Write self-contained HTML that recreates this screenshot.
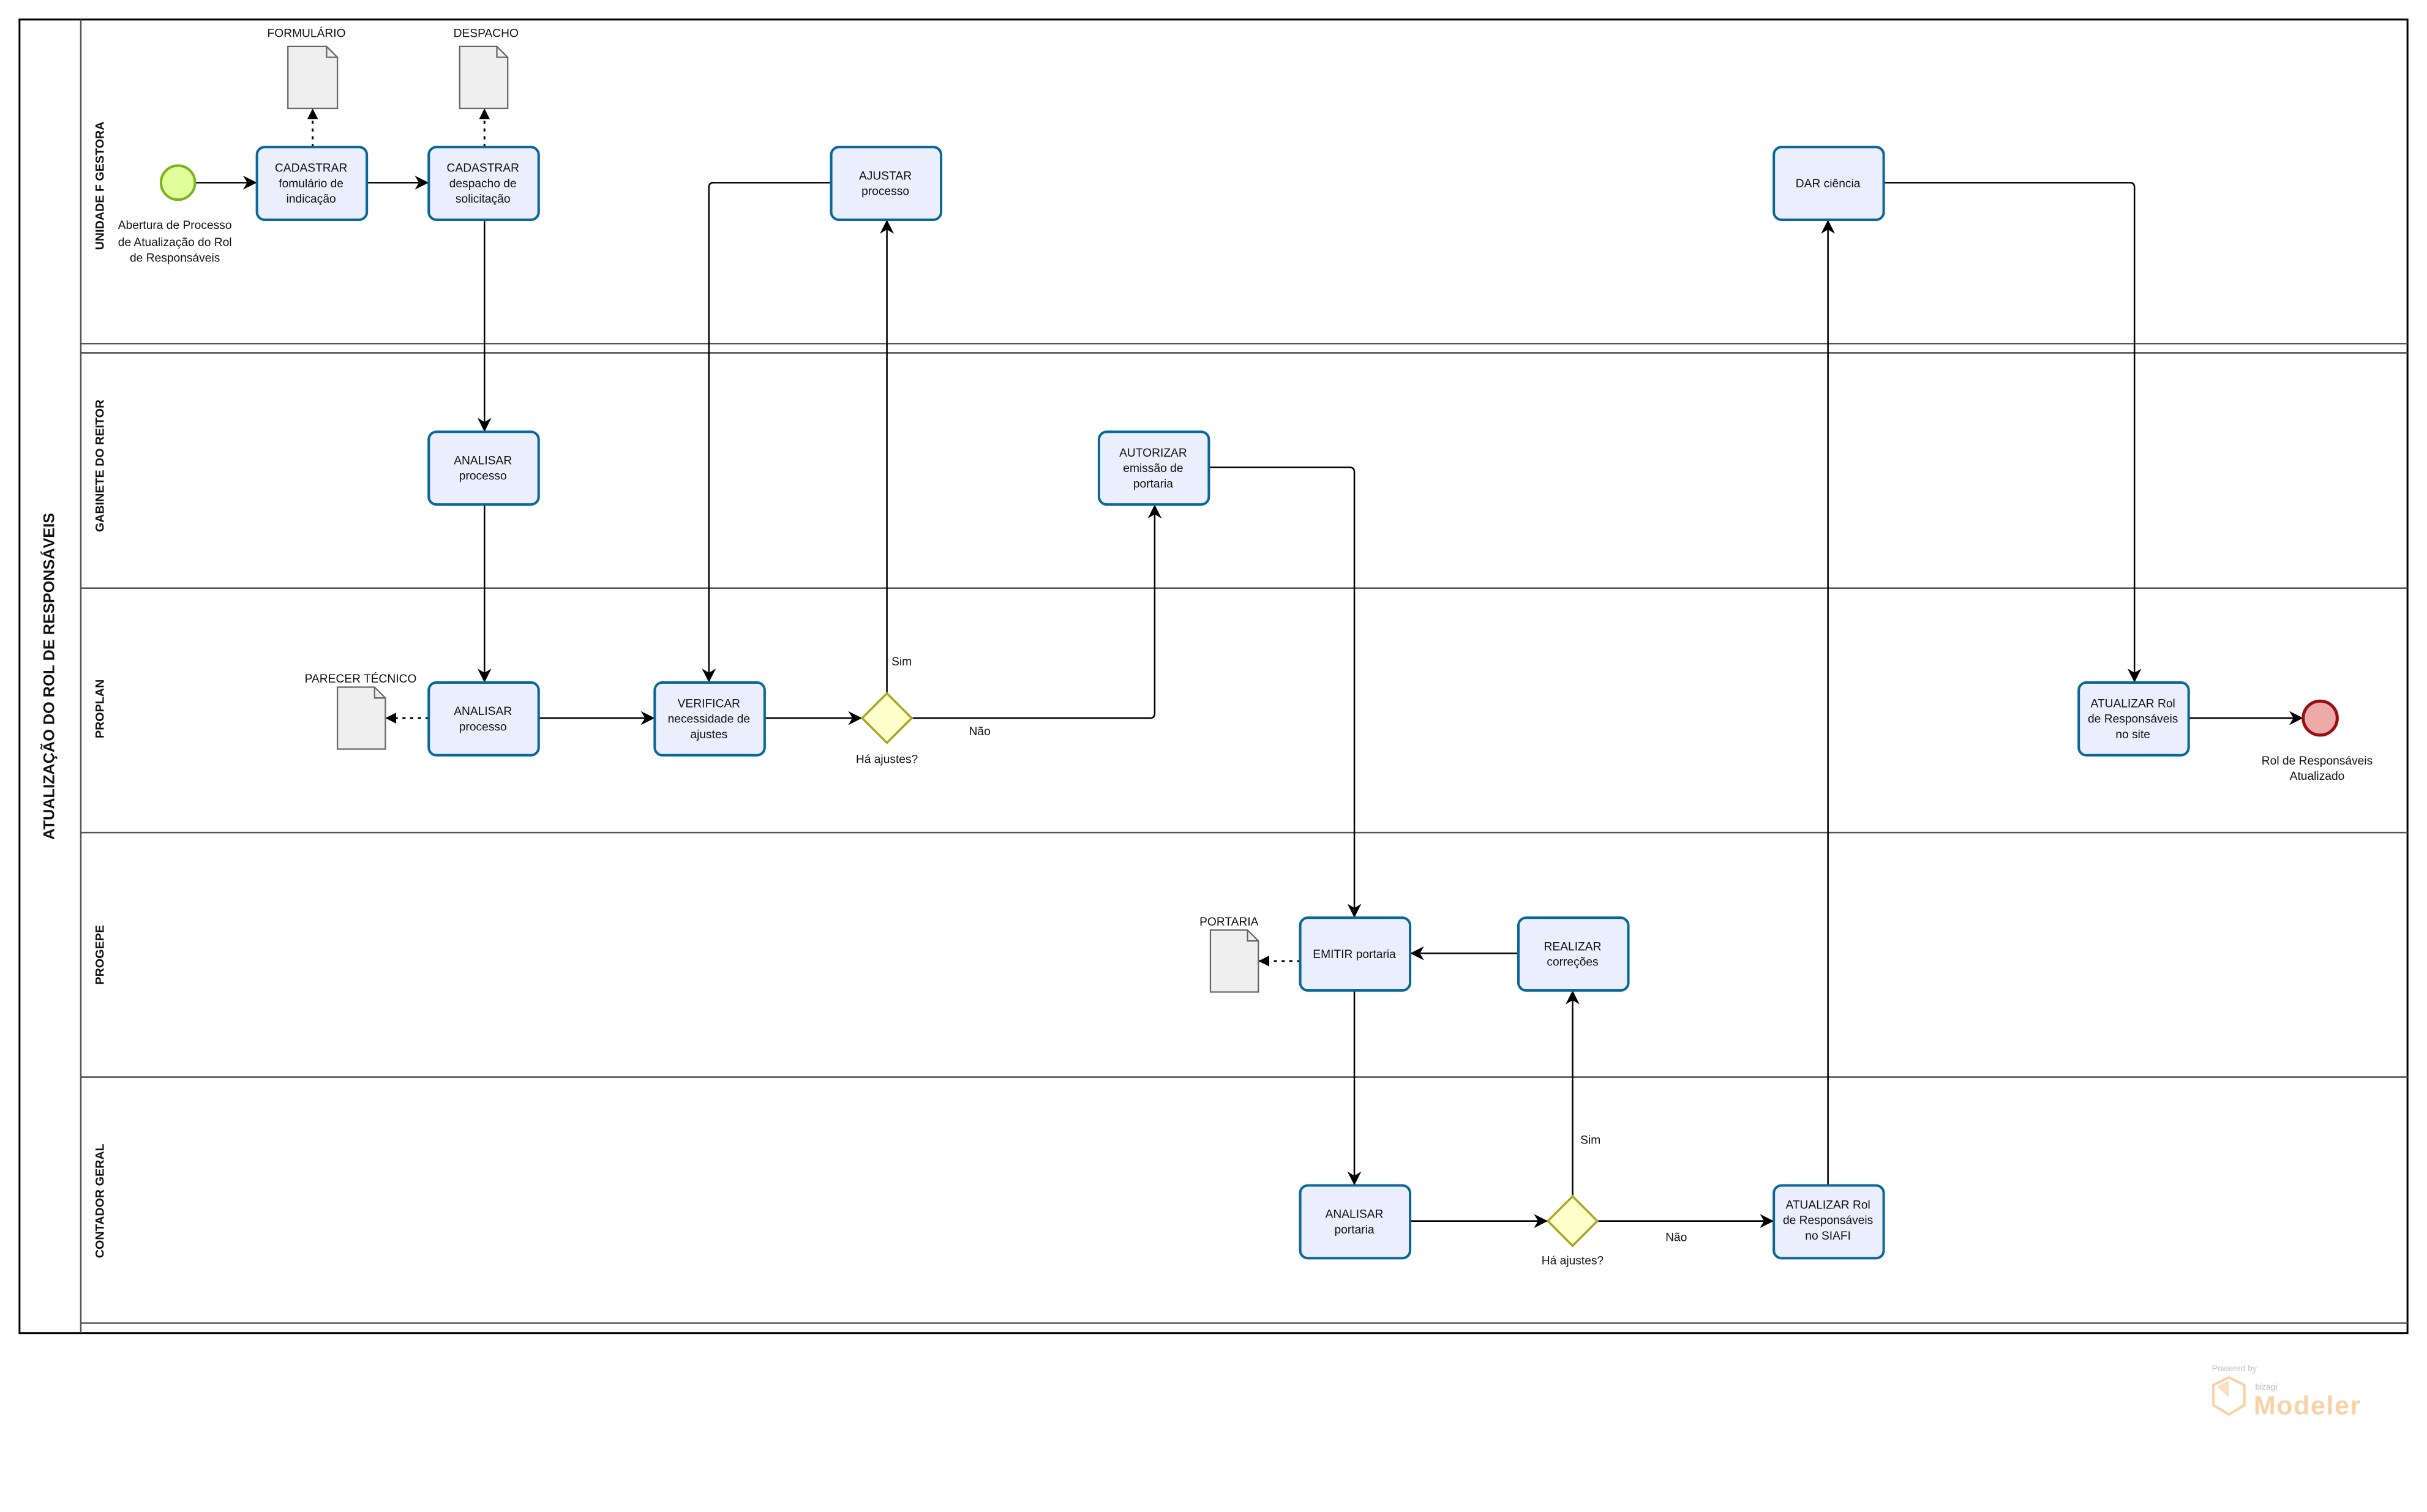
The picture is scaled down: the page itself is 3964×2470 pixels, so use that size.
<!DOCTYPE html>
<html><head><meta charset="utf-8"><style>
html,body{margin:0;padding:0;background:#fff;}
svg{display:block;}
text{font-family:"Liberation Sans",sans-serif;fill:#111;}
</style></head><body>
<svg width="3964" height="2470" viewBox="0 0 1568 977" xmlns="http://www.w3.org/2000/svg">
<defs>
<marker id="a" viewBox="0 0 10 10" refX="10" refY="5" markerWidth="9" markerHeight="9" markerUnits="userSpaceOnUse" orient="auto"><path d="M0,0 L10,5 L0,10 L3,5 z" fill="#000"/></marker>
<marker id="b" viewBox="0 0 10 10" refX="10" refY="5" markerWidth="7" markerHeight="7" markerUnits="userSpaceOnUse" orient="auto"><path d="M0,0 L10,5 L0,10 z" fill="#000"/></marker>
</defs>
<rect width="1568" height="977" fill="#fff"/>
<rect x="12.6" y="12.6" width="1542.8" height="848.8" fill="none" stroke="#000" stroke-width="1.2"/>
<line x1="52.2" y1="12.6" x2="52.2" y2="861.4" stroke="#555" stroke-width="1"/>
<g stroke="#555" stroke-width="1">
<line x1="52.2" y1="222" x2="1555.4" y2="222"/>
<line x1="52.2" y1="228" x2="1555.4" y2="228"/>
<line x1="52.2" y1="380" x2="1555.4" y2="380"/>
<line x1="52.2" y1="538" x2="1555.4" y2="538"/>
<line x1="52.2" y1="696" x2="1555.4" y2="696"/>
<line x1="52.2" y1="855" x2="1555.4" y2="855"/>
</g>
<text transform="translate(35,437) rotate(-90)" text-anchor="middle" font-size="10" font-weight="bold">ATUALIZAÇÃO DO ROL DE RESPONSÁVEIS</text>
<g font-size="7.8" font-weight="bold" text-anchor="middle">
<text transform="translate(67,120) rotate(-90)">UNIDADE F GESTORA</text>
<text transform="translate(67,301) rotate(-90)">GABINETE DO REITOR</text>
<text transform="translate(67,458) rotate(-90)">PROPLAN</text>
<text transform="translate(67,617) rotate(-90)">PROGEPE</text>
<text transform="translate(67,776) rotate(-90)">CONTADOR GERAL</text>
</g>

<g fill="none" stroke="#000" stroke-width="1">
<line x1="126" y1="118" x2="166" y2="118" marker-end="url(#a)"/>
<line x1="237" y1="118" x2="277" y2="118" marker-end="url(#a)"/>
<line x1="313" y1="142" x2="313" y2="279" marker-end="url(#a)"/>
<line x1="313" y1="326" x2="313" y2="441" marker-end="url(#a)"/>
<line x1="348" y1="464" x2="423" y2="464" marker-end="url(#a)"/>
<path d="M537,118 H461 Q458,118 458,121 V441" marker-end="url(#a)"/>
<line x1="494" y1="464" x2="557" y2="464" marker-end="url(#a)"/>
<line x1="573" y1="448" x2="573" y2="142" marker-end="url(#a)"/>
<path d="M589,464 H743 Q746,464 746,461 V326" marker-end="url(#a)"/>
<path d="M781,302 H872 Q875,302 875,305 V593" marker-end="url(#a)"/>
<line x1="981" y1="616" x2="911" y2="616" marker-end="url(#a)"/>
<line x1="875" y1="640" x2="875" y2="766" marker-end="url(#a)"/>
<line x1="911" y1="789" x2="1000" y2="789" marker-end="url(#a)"/>
<line x1="1016" y1="773" x2="1016" y2="640" marker-end="url(#a)"/>
<line x1="1032" y1="789" x2="1146" y2="789" marker-end="url(#a)"/>
<line x1="1181" y1="766" x2="1181" y2="142" marker-end="url(#a)"/>
<path d="M1217,118 H1376 Q1379,118 1379,121 V441" marker-end="url(#a)"/>
<line x1="1414" y1="464" x2="1488" y2="464" marker-end="url(#a)"/>
</g>
<g fill="none" stroke="#000" stroke-width="1.2" stroke-dasharray="2,3">
<line x1="202" y1="95" x2="202" y2="70" marker-end="url(#b)"/>
<line x1="313" y1="95" x2="313" y2="70" marker-end="url(#b)"/>
<line x1="277" y1="464" x2="249" y2="464" marker-end="url(#b)"/>
<line x1="840" y1="621" x2="813" y2="621" marker-end="url(#b)"/>
</g>

<circle cx="115" cy="118" r="11" fill="#e0ff99" stroke="#77b41d" stroke-width="1.6"/>
<circle cx="1499" cy="464" r="11" fill="#eea9a9" stroke="#9a0f0f" stroke-width="2"/>

<polygon points="573,448 589,464 573,480 557,464" fill="#ffffcc" stroke="#a8a825" stroke-width="1.4"/>
<polygon points="1016,773 1032,789 1016,805 1000,789" fill="#ffffcc" stroke="#a8a825" stroke-width="1.4"/>

<g fill="#ebeefd" stroke="#0a6799" stroke-width="1.6">
<rect x="166" y="95" width="71" height="47" rx="5"/>
<rect x="277" y="95" width="71" height="47" rx="5"/>
<rect x="537" y="95" width="71" height="47" rx="5"/>
<rect x="1146" y="95" width="71" height="47" rx="5"/>
<rect x="277" y="279" width="71" height="47" rx="5"/>
<rect x="710" y="279" width="71" height="47" rx="5"/>
<rect x="277" y="441" width="71" height="47" rx="5"/>
<rect x="423" y="441" width="71" height="47" rx="5"/>
<rect x="1343" y="441" width="71" height="47" rx="5"/>
<rect x="840" y="593" width="71" height="47" rx="5"/>
<rect x="981" y="593" width="71" height="47" rx="5"/>
<rect x="840" y="766" width="71" height="47" rx="5"/>
<rect x="1146" y="766" width="71" height="47" rx="5"/>
</g>

<g fill="#efefef" stroke="#666" stroke-width="0.9">
<path d="M186,30 H211 L218,37 V70 H186 Z"/>
<path d="M297,30 H321 L328,37 V70 H297 Z"/>
<path d="M218,444 H242 L249,451 V484 H218 Z"/>
<path d="M782,601 H806 L813,608 V641 H782 Z"/>
</g>
<g fill="none" stroke="#666" stroke-width="0.9">
<path d="M211,30 V37 H218"/><path d="M321,30 V37 H328"/><path d="M242,444 V451 H249"/><path d="M806,601 V608 H813"/>
</g>

<g font-size="7.6" text-anchor="middle">
<text x="198" y="24">FORMULÁRIO</text>
<text x="314" y="24">DESPACHO</text>
<text x="233" y="441">PARECER TÉCNICO</text>
<text x="794" y="598">PORTARIA</text>

<text x="201" y="111">CADASTRAR</text><text x="201" y="121">fomulário de</text><text x="201" y="131">indicação</text>
<text x="312" y="111">CADASTRAR</text><text x="312" y="121">despacho de</text><text x="312" y="131">solicitação</text>
<text x="572" y="116">AJUSTAR</text><text x="572" y="126">processo</text>
<text x="1181" y="121">DAR ciência</text>
<text x="312" y="300">ANALISAR</text><text x="312" y="310">processo</text>
<text x="745" y="295">AUTORIZAR</text><text x="745" y="305">emissão de</text><text x="745" y="315">portaria</text>
<text x="312" y="462">ANALISAR</text><text x="312" y="472">processo</text>
<text x="458" y="457">VERIFICAR</text><text x="458" y="467">necessidade de</text><text x="458" y="477">ajustes</text>
<text x="1378" y="457">ATUALIZAR Rol</text><text x="1378" y="467">de Responsáveis</text><text x="1378" y="477">no site</text>
<text x="875" y="619">EMITIR portaria</text>
<text x="1016" y="614">REALIZAR</text><text x="1016" y="624">correções</text>
<text x="875" y="787">ANALISAR</text><text x="875" y="797">portaria</text>
<text x="1181" y="781">ATUALIZAR Rol</text><text x="1181" y="791">de Responsáveis</text><text x="1181" y="801">no SIAFI</text>

<text x="113" y="148">Abertura de Processo</text><text x="113" y="159">de Atualização do Rol</text><text x="113" y="169">de Responsáveis</text>
<text x="1497" y="494">Rol de Responsáveis</text><text x="1497" y="504">Atualizado</text>
<text x="573" y="493">Há ajustes?</text>
<text x="1016" y="817">Há ajustes?</text>
</g>
<g font-size="7.6">
<text x="576" y="430">Sim</text>
<text x="626" y="475">Não</text>
<text x="1021" y="739">Sim</text>
<text x="1076" y="802">Não</text>
</g>

<g opacity="0.6">
<text x="1429" y="886" font-size="5.5" style="fill:#999">Powered by</text>
<polygon points="1440,890 1450,895 1450,908 1440,914 1430,908 1430,895" fill="none" stroke="#f5b56a" stroke-width="1.6"/>
<polygon points="1432,896 1440,892 1440,903" fill="#f8cc9a"/>
<text x="1457" y="898" font-size="5.5" style="fill:#888">bizagi</text>
<text x="1456" y="914" font-size="17" font-weight="bold" textLength="69" style="fill:#f5b56a">Modeler</text>
</g>
</svg>
</body></html>
